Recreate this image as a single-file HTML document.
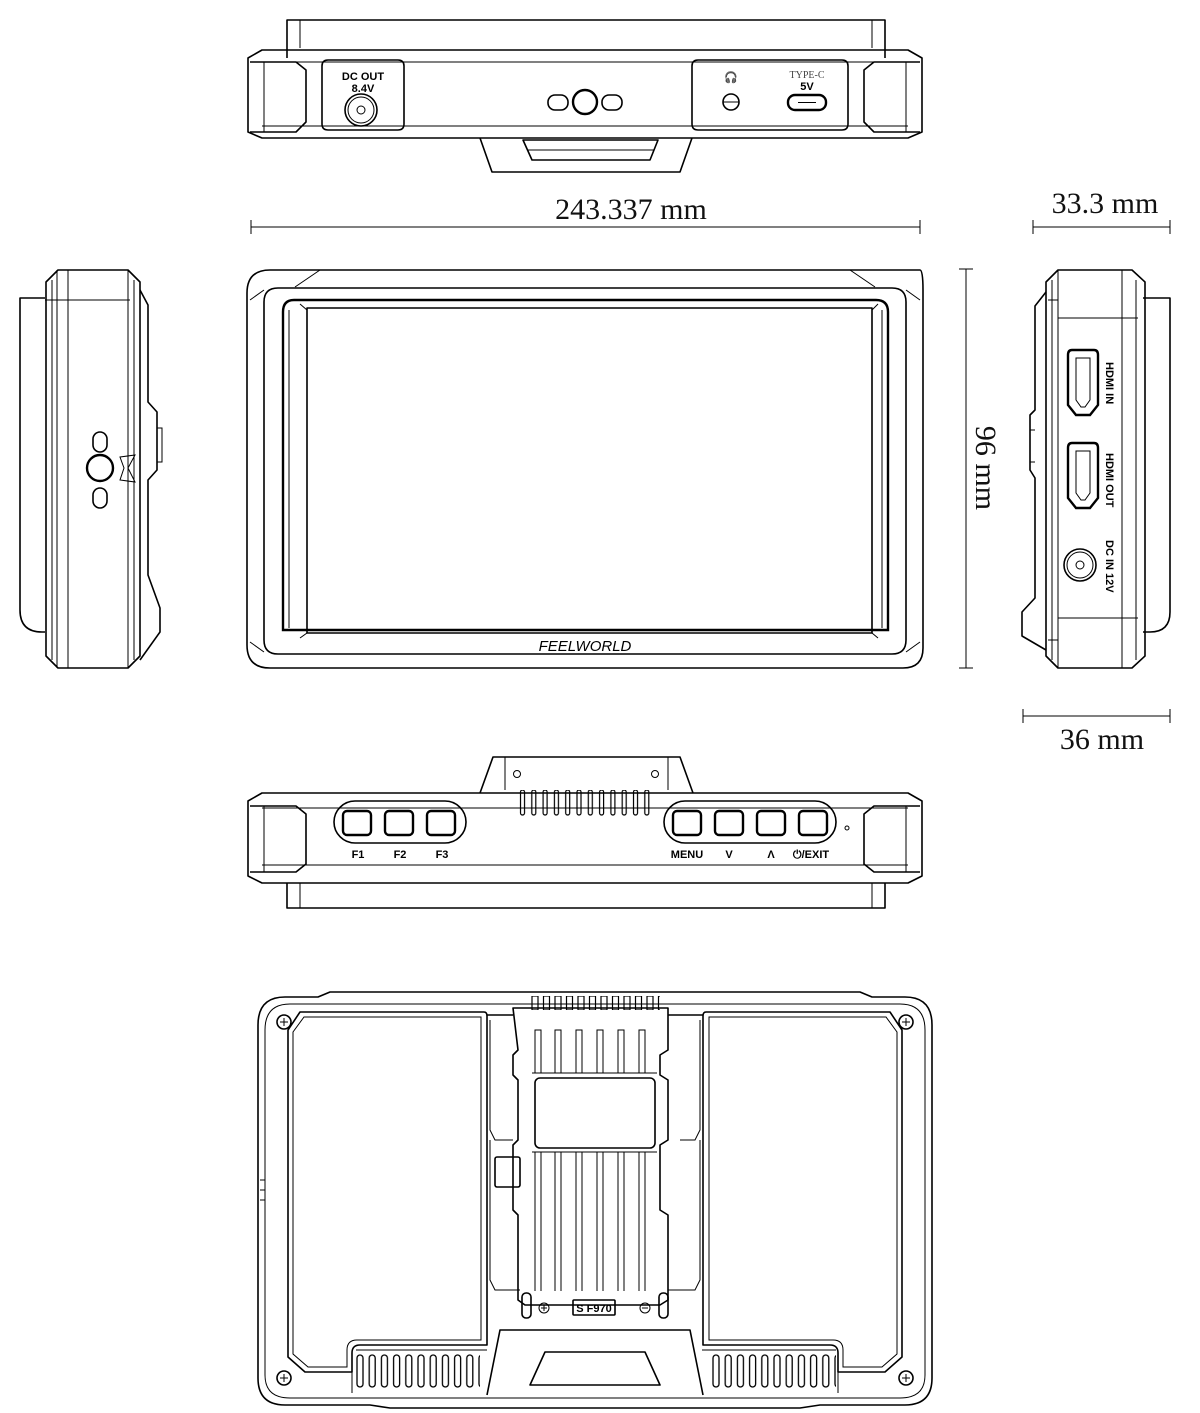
<!DOCTYPE html>
<html><head><meta charset="utf-8"><style>
html,body{margin:0;padding:0;background:#fff}
svg{display:block}
.s{fill:none;stroke:#000;stroke-width:1.6;stroke-linejoin:round}
.t{fill:none;stroke:#000;stroke-width:1}
.th{fill:none;stroke:#000;stroke-width:2.4}
.dim{font-family:"Liberation Serif",serif;font-size:30px;fill:#111}
.lb{font-family:"Liberation Sans",sans-serif;font-weight:bold;font-size:11px;fill:#000}
</style></head><body>
<svg width="1200" height="1413" viewBox="0 0 1200 1413" xmlns="http://www.w3.org/2000/svg">
<defs>
<pattern id="vent" x="349" y="0" width="11" height="20" patternUnits="userSpaceOnUse">
<path d="M2 148 V143 a3 3 0 0 1 6 0 V148" fill="none" stroke="#000" stroke-width="1.2"/>
</pattern>
<pattern id="bv" x="356" y="0" width="12.2" height="1413" patternUnits="userSpaceOnUse">
<rect x="1" y="1355" width="6" height="32" rx="3" fill="none" stroke="#000" stroke-width="1.3"/>
</pattern>
<pattern id="bv2" x="712" y="0" width="12.2" height="1413" patternUnits="userSpaceOnUse">
<rect x="1" y="1355" width="6" height="32" rx="3" fill="none" stroke="#000" stroke-width="1.3"/>
</pattern>
<pattern id="teeth" x="530" y="0" width="11.5" height="1413" patternUnits="userSpaceOnUse">
<rect x="2" y="996" width="6" height="14" fill="none" stroke="#000" stroke-width="1.2"/>
</pattern>
<pattern id="pins" x="519" y="0" width="11.3" height="1413" patternUnits="userSpaceOnUse">
<rect x="1.5" y="790" width="4" height="25" rx="2" fill="none" stroke="#000" stroke-width="1.2"/>
</pattern>
</defs>

<!-- ===== TOP VIEW ===== -->
<path class="s" d="M287 58 V20 H885 V58"/>
<line class="t" x1="300" y1="20" x2="300" y2="48"/><line class="t" x1="872" y1="20" x2="872" y2="48"/>
<path class="s" d="M262 50 H908 L922 58 V132 L908 138 H262 L248 132 V58 Z"/>
<line class="t" x1="262" y1="62" x2="908" y2="62"/>
<line class="t" x1="262" y1="126" x2="908" y2="126"/>
<path class="s" d="M250 62 H296 L306 70 V122 L296 132 H250"/>
<line class="t" x1="264" y1="62" x2="264" y2="132"/>
<path class="s" d="M920 62 H874 L864 70 V122 L874 132 H920"/>
<line class="t" x1="906" y1="62" x2="906" y2="132"/>
<path class="s" d="M328 60 H398 Q404 60 404 66 V124 Q404 130 398 130 H328 Q322 130 322 124 V66 Q322 60 328 60Z"/>
<path class="s" d="M698 60 H842 Q848 60 848 66 V124 Q848 130 842 130 H698 Q692 130 692 124 V66 Q692 60 698 60Z"/>
<text class="lb" x="363" y="80" text-anchor="middle" font-size="11">DC OUT</text>
<text class="lb" x="363" y="92" text-anchor="middle" font-size="11">8.4V</text>
<circle class="s" cx="361" cy="110" r="16"/><circle class="t" cx="361" cy="110" r="13"/><circle class="t" cx="361" cy="110" r="4"/>
<circle class="th" cx="585" cy="102" r="12"/>
<rect class="s" x="548" y="95" width="20" height="15" rx="7"/><rect class="s" x="602" y="95" width="20" height="15" rx="7"/>
<text class="lb" x="731" y="81" text-anchor="middle" font-size="12">🎧</text>
<circle class="s" cx="731" cy="102" r="8"/><line class="t" x1="723" y1="102" x2="739" y2="102"/>
<text x="807" y="78" text-anchor="middle" font-family="Liberation Serif,serif" font-size="10" fill="#444">TYPE-C</text>
<text class="lb" x="807" y="90" text-anchor="middle">5V</text>
<rect class="th" x="788" y="95" width="38" height="15" rx="7"/><line class="t" x1="798" y1="102.5" x2="816" y2="102.5"/>
<rect x="345" y="138" width="128" height="12" fill="url(#vent)"/>
<rect x="706" y="138" width="128" height="12" fill="url(#vent)"/>
<path class="s" d="M480 138 L492 172 H680 L692 138"/>
<path class="s" d="M523 140 L532 160 H650 L658 140 Z"/><line class="t" x1="528" y1="150" x2="654" y2="150"/>

<!-- dimension top -->
<line class="t" x1="251" y1="227" x2="920" y2="227"/>
<line class="t" x1="251" y1="220" x2="251" y2="234"/><line class="t" x1="920" y1="220" x2="920" y2="234"/>
<text class="dim" x="631" y="219" text-anchor="middle">243.337 mm</text>
<line class="t" x1="1033" y1="227" x2="1170" y2="227"/>
<line class="t" x1="1033" y1="220" x2="1033" y2="234"/><line class="t" x1="1170" y1="220" x2="1170" y2="234"/>
<text class="dim" x="1105" y="213" text-anchor="middle">33.3 mm</text>

<!-- ===== FRONT VIEW ===== -->
<path class="s" d="M270 270 H920 Q923 270 923 290 V648 Q923 668 903 668 H270 Q247 668 247 645 V293 Q247 270 270 270Z"/>
<path class="t" d="M295 287 L320 270 M875 287 L850 270"/>
<path class="s" d="M278 288 H892 Q906 288 906 302 V640 Q906 654 892 654 H278 Q264 654 264 640 V302 Q264 288 278 288Z"/>
<path class="t" d="M250 300 L264 290 M920 300 L906 290 M250 642 L264 652 M920 642 L906 652"/>
<path class="th" d="M294 300 H876 Q888 300 888 312 V630 H283 V312 Q283 300 294 300Z"/>
<line class="t" x1="289" y1="310" x2="289" y2="628"/><line class="t" x1="882" y1="310" x2="882" y2="628"/>
<rect class="s" x="307" y="308" width="565" height="325"/>
<line class="t" x1="300" y1="304" x2="307" y2="310"/><line class="t" x1="878" y1="304" x2="872" y2="310"/>
<line class="t" x1="300" y1="638" x2="307" y2="633"/><line class="t" x1="878" y1="638" x2="872" y2="633"/>
<text x="585" y="651" text-anchor="middle" font-family="Liberation Sans,sans-serif" font-style="italic" font-size="15" fill="#000">FEELWORLD</text>

<!-- 96 mm -->
<line class="t" x1="966" y1="269" x2="966" y2="668"/>
<line class="t" x1="959" y1="269" x2="973" y2="269"/><line class="t" x1="959" y1="668" x2="973" y2="668"/>
<text class="dim" x="0" y="0" text-anchor="middle" transform="translate(976 468) rotate(90)">96 mm</text>

<!-- ===== LEFT SIDE VIEW ===== -->
<path class="s" d="M45 298 H20 V610 Q20 632 42 632 H45"/>
<line class="t" x1="45" y1="300" x2="130" y2="300"/>
<path class="s" d="M58 270 H128 L140 282 V656 L128 668 H58 L46 656 V282 Z"/>
<line class="t" x1="52" y1="280" x2="52" y2="660"/><line class="t" x1="57" y1="270" x2="57" y2="668"/>
<line class="t" x1="68" y1="270" x2="68" y2="668"/><line class="t" x1="128" y1="270" x2="128" y2="668"/>
<line class="t" x1="134" y1="280" x2="134" y2="660"/>
<path class="s" d="M140 290 L148 305 V402 L157 412 V470 L148 480 V575 L160 608 V632 L140 660"/>
<path class="t" d="M157 428 H162 V462 H157"/>
<rect class="s" x="93" y="432" width="14" height="20" rx="7"/>
<circle class="th" cx="100" cy="468" r="13"/>
<rect class="s" x="93" y="488" width="14" height="20" rx="7"/>
<path class="t" d="M120 457 L135 455 L128 468 L135 482 L120 480 L124 468 Z"/>

<!-- ===== RIGHT SIDE VIEW ===== -->
<path class="s" d="M1143 298 H1170 V612 Q1170 632 1150 632 H1143"/>
<path class="s" d="M1058 270 H1132 L1145 282 V656 L1132 668 H1058 L1046 656 V282 Z"/>
<line class="t" x1="1052" y1="280" x2="1052" y2="660"/><line class="t" x1="1058" y1="270" x2="1058" y2="668"/>
<line class="t" x1="1122" y1="270" x2="1122" y2="668"/><line class="t" x1="1136" y1="280" x2="1136" y2="660"/>
<line class="t" x1="1058" y1="318" x2="1138" y2="318"/><line class="t" x1="1058" y1="618" x2="1138" y2="618"/>
<line class="t" x1="1048" y1="300" x2="1058" y2="300"/><line class="t" x1="1048" y1="640" x2="1058" y2="640"/>
<path class="s" d="M1046 292 L1035 306 V410 L1030 415 V470 L1035 478 V598 L1022 612 V636 L1046 650"/>
<path class="t" d="M1035 430 H1030 V462 H1035"/>
<path class="th" d="M1072 350 H1094 Q1098 350 1098 355 V405 L1090 415 H1076 L1068 405 V355 Q1068 350 1072 350Z"/>
<path class="t" d="M1076 358 H1090 V400 L1085 407 H1081 L1076 400 Z"/>
<path class="th" d="M1072 443 H1094 Q1098 443 1098 448 V498 L1090 508 H1076 L1068 498 V448 Q1068 443 1072 443Z"/>
<path class="t" d="M1076 451 H1090 V493 L1085 500 H1081 L1076 493 Z"/>
<circle class="s" cx="1080" cy="565" r="16"/><circle class="t" cx="1080" cy="565" r="13"/><circle class="t" cx="1080" cy="565" r="4"/>
<text class="lb" transform="translate(1106 362) rotate(90)">HDMI IN</text>
<text class="lb" transform="translate(1106 453) rotate(90)">HDMI OUT</text>
<text class="lb" transform="translate(1106 540) rotate(90)">DC IN 12V</text>

<!-- 36 mm -->
<line class="t" x1="1023" y1="716" x2="1170" y2="716"/>
<line class="t" x1="1023" y1="709" x2="1023" y2="723"/><line class="t" x1="1170" y1="709" x2="1170" y2="723"/>
<text class="dim" x="1102" y="749" text-anchor="middle">36 mm</text>

<!-- ===== BOTTOM (BUTTONS) VIEW ===== -->
<path class="s" d="M480 793 L493 757 H680 L693 793"/>
<line class="t" x1="505" y1="757" x2="505" y2="790"/><line class="t" x1="668" y1="757" x2="668" y2="790"/>
<circle class="t" cx="517" cy="774" r="3.5"/><circle class="t" cx="655" cy="774" r="3.5"/>
<rect x="515" y="790" width="140" height="30" fill="url(#pins)"/>
<path class="s" d="M262 793 H908 L922 801 V876 L908 883 H262 L248 876 V801 Z"/>
<line class="t" x1="262" y1="808" x2="908" y2="808"/><line class="t" x1="262" y1="865" x2="908" y2="865"/>
<path class="s" d="M250 806 H296 L306 814 V864 L296 872 H250"/>
<line class="t" x1="264" y1="806" x2="264" y2="872"/>
<path class="s" d="M920 806 H874 L864 814 V864 L874 872 H920"/>
<line class="t" x1="906" y1="806" x2="906" y2="872"/>
<path class="s" d="M287 883 V908 H885 V883"/>
<line class="t" x1="300" y1="883" x2="300" y2="908"/><line class="t" x1="872" y1="883" x2="872" y2="908"/>
<rect class="s" x="334" y="801" width="132" height="42" rx="21"/>
<rect class="th" x="343" y="811" width="28" height="24" rx="4"/>
<rect class="th" x="385" y="811" width="28" height="24" rx="4"/>
<rect class="th" x="427" y="811" width="28" height="24" rx="4"/>
<rect class="s" x="664" y="801" width="172" height="42" rx="21"/>
<rect class="th" x="673" y="811" width="28" height="24" rx="4"/>
<rect class="th" x="715" y="811" width="28" height="24" rx="4"/>
<rect class="th" x="757" y="811" width="28" height="24" rx="4"/>
<rect class="th" x="799" y="811" width="28" height="24" rx="4"/>
<circle class="t" cx="847" cy="828" r="2"/>
<text class="lb" x="358" y="858" text-anchor="middle">F1</text>
<text class="lb" x="400" y="858" text-anchor="middle">F2</text>
<text class="lb" x="442" y="858" text-anchor="middle">F3</text>
<text class="lb" x="687" y="858" text-anchor="middle">MENU</text>
<text class="lb" x="729" y="858" text-anchor="middle">V</text>
<text class="lb" x="771" y="858" text-anchor="middle">Λ</text>
<text class="lb" x="811" y="858" text-anchor="middle">⏻/EXIT</text>

<!-- ===== BACK VIEW ===== -->
<path class="s" d="M285 997 H318 L330 992 H860 L872 997 H905 Q932 997 932 1025 V1378 Q932 1405 905 1405 H820 L800 1408 H390 L370 1405 H285 Q258 1405 258 1378 V1025 Q258 997 285 997Z"/>
<path class="t" d="M290 1004 H900 Q925 1004 925 1030 V1375 Q925 1398 900 1398 H290 Q265 1398 265 1375 V1030 Q265 1004 290 1004Z"/>
<line class="t" x1="260" y1="1180" x2="265" y2="1180"/><line class="t" x1="260" y1="1190" x2="265" y2="1190"/><line class="t" x1="260" y1="1200" x2="265" y2="1200"/>
<!-- left battery panel -->
<path class="s" d="M300 1012 H484 Q487 1012 487 1016 V1345 H360 Q352 1345 352 1353 V1372 H305 L288 1357 V1030 Z"/>
<path class="t" d="M304 1017 H481 V1340 H357 Q347 1340 347 1350 V1367 H308 L293 1354 V1032 Z"/>
<path class="s" d="M890 1012 H706 Q703 1012 703 1016 V1345 H830 Q838 1345 838 1353 V1372 H885 L902 1357 V1030 Z"/>
<path class="t" d="M886 1017 H709 V1340 H833 Q843 1340 843 1350 V1367 H882 L897 1354 V1032 Z"/>
<path class="t" d="M352 1372 V1393 M838 1372 V1393 M356 1350 H487 M702 1350 H836"/>
<!-- screws -->
<g><circle class="s" cx="284" cy="1022" r="7"/><path class="t" d="M280 1022 H288 M284 1018 V1026"/></g>
<g><circle class="s" cx="906" cy="1022" r="7"/><path class="t" d="M902 1022 H910 M906 1018 V1026"/></g>
<g><circle class="s" cx="284" cy="1378" r="7"/><path class="t" d="M280 1378 H288 M284 1374 V1382"/></g>
<g><circle class="s" cx="906" cy="1378" r="7"/><path class="t" d="M902 1378 H910 M906 1374 V1382"/></g>
<!-- vents -->
<rect x="356" y="1350" width="124" height="40" fill="url(#bv)"/>
<rect x="712" y="1350" width="124" height="40" fill="url(#bv2)"/>
<!-- center section -->
<path class="s" d="M487 1015 H513 M668 1015 H703"/>
<path class="t" d="M490 1020 V1130 L495 1140 H513 M700 1020 V1130 L695 1140 H680"/>
<path class="t" d="M490 1140 V1280 L495 1290 H520 M700 1140 V1280 L695 1290 H668"/>
<path class="s" d="M487 1395 L500 1330 H690 L703 1395"/>
<path class="s" d="M530 1385 L545 1352 H645 L660 1385 Z"/>
<rect x="528" y="996" width="132" height="14" fill="url(#teeth)"/>
<path class="s" d="M513 1008 H668 V1050 L660 1055 V1075 L668 1080 V1140 L660 1145 V1210 L668 1215 V1300 L660 1305 H525 L518 1300 V1215 L513 1210 V1145 L518 1140 V1080 L513 1075 V1055 L518 1050 Z"/>
<g class="t">
<path d="M535 1073 V1030 H541 V1073 M555 1073 V1030 H561 V1073 M576 1073 V1030 H582 V1073 M597 1073 V1030 H603 V1073 M618 1073 V1030 H624 V1073 M639 1073 V1030 H645 V1073"/>
<path d="M532 1073 H657"/>
<path d="M535 1152 V1291 M541 1152 V1291 M555 1152 V1291 M561 1152 V1291 M576 1152 V1291 M582 1152 V1291 M597 1152 V1291 M603 1152 V1291 M618 1152 V1291 M624 1152 V1291 M639 1152 V1291 M645 1152 V1291"/>
<path d="M532 1152 H657"/>
</g>
<rect class="s" x="535" y="1078" width="120" height="70" rx="5"/>
<rect class="s" x="495" y="1157" width="25" height="30" rx="2"/><line class="t" x1="513" y1="1157" x2="513" y2="1187"/>
<rect class="s" x="522" y="1293" width="9" height="25" rx="4"/><rect class="s" x="659" y="1293" width="9" height="25" rx="4"/>
<circle class="t" cx="544" cy="1308" r="5"/><path class="t" d="M541 1308 H547 M544 1305 V1311"/>
<circle class="t" cx="645" cy="1308" r="5"/><path class="t" d="M642 1308 H648"/>
<rect class="s" x="573" y="1300" width="42" height="15" rx="1"/>
<text class="lb" x="594" y="1312" text-anchor="middle" font-size="11">S F970</text>
</svg>
</body></html>
